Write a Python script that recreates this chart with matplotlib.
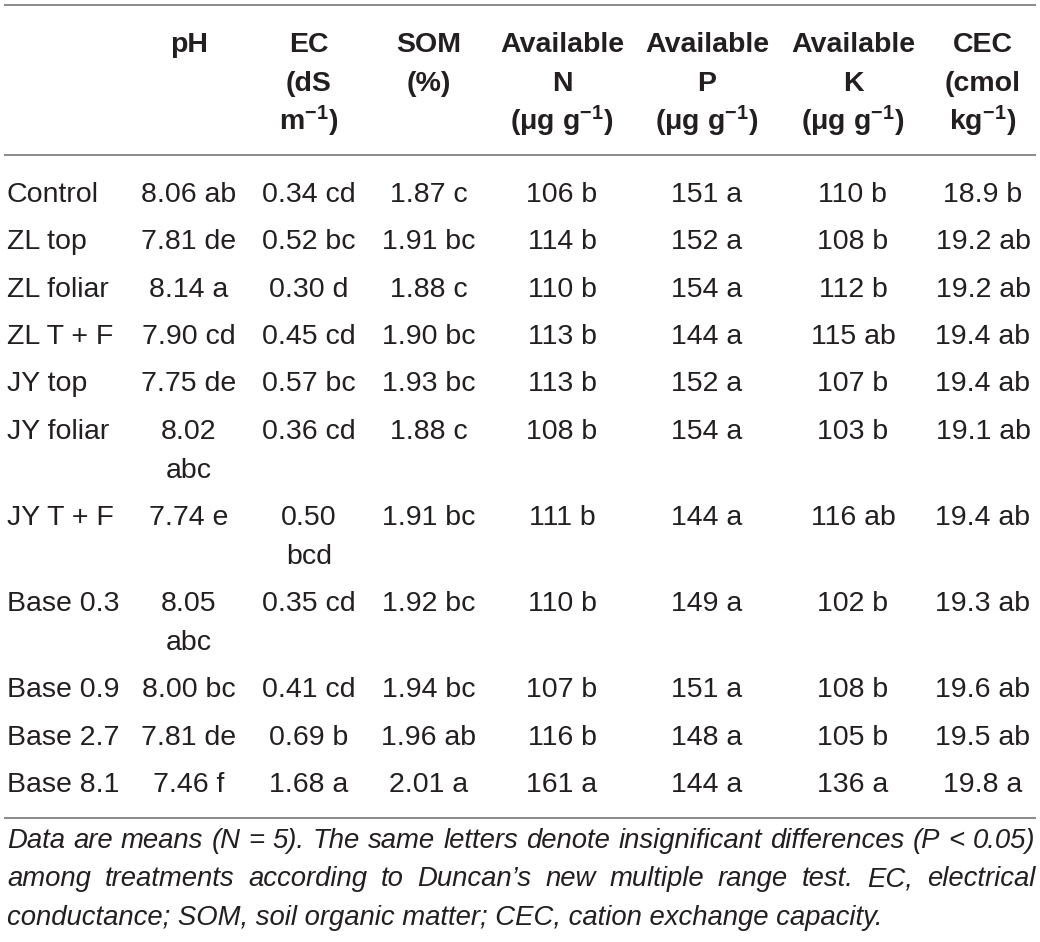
import matplotlib
matplotlib.use("Agg")
import matplotlib.pyplot as plt

W, H = 1040, 942

treatments = ["Control", "ZL top", "ZL foliar", "ZL T + F", "JY top", "JY foliar",
              "JY T + F", "Base 0.3", "Base 0.9", "Base 2.7", "Base 8.1"]
ph = ["8.06 ab", "7.81 de", "8.14 a", "7.90 cd", "7.75 de", "8.02\nabc",
      "7.74 e", "8.05\nabc", "8.00 bc", "7.81 de", "7.46 f"]
ec = ["0.34 cd", "0.52 bc", "0.30 d", "0.45 cd", "0.57 bc", "0.36 cd",
      "0.50\nbcd", "0.35 cd", "0.41 cd", "0.69 b", "1.68 a"]
som = ["1.87 c", "1.91 bc", "1.88 c", "1.90 bc", "1.93 bc", "1.88 c",
       "1.91 bc", "1.92 bc", "1.94 bc", "1.96 ab", "2.01 a"]
avail_n = ["106 b", "114 b", "110 b", "113 b", "113 b", "108 b",
           "111 b", "110 b", "107 b", "116 b", "161 a"]
avail_p = ["151 a", "152 a", "154 a", "144 a", "152 a", "154 a",
           "144 a", "149 a", "151 a", "148 a", "144 a"]
avail_k = ["110 b", "108 b", "112 b", "115 ab", "107 b", "103 b",
           "116 ab", "102 b", "108 b", "105 b", "136 a"]
cec = ["18.9 b", "19.2 ab", "19.2 ab", "19.4 ab", "19.4 ab", "19.1 ab",
       "19.4 ab", "19.3 ab", "19.6 ab", "19.5 ab", "19.8 a"]

headers = ["pH", "EC\n(dS\nm$^{-1}$)", "SOM\n(%)",
           "Available\nN\n(μg g$^{-1}$)", "Available\nP\n(μg g$^{-1}$)",
           "Available\nK\n(μg g$^{-1}$)", "CEC\n(cmol\nkg$^{-1}$)"]

footer_lines = [
    "Data are means (N = 5). The same letters denote insignificant differences (P < 0.05)",
    "among treatments according to Duncan\u2019s new multiple range test. EC, electrical",
    "conductance; SOM, soil organic matter; CEC, cation exchange capacity.",
]

plt.rcParams["font.family"] = ["Liberation Sans", "DejaVu Sans"]
plt.rcParams["mathtext.fontset"] = "custom"
plt.rcParams["mathtext.rm"] = "Liberation Sans:bold"
plt.rcParams["mathtext.it"] = "Liberation Sans:bold"
plt.rcParams["mathtext.bf"] = "Liberation Sans:bold"

col_x = [189, 309, 429, 562, 707, 853, 983]
label_x = 7
text_col = "#231f20"
rule_col = "#8a8a8a"
fs = 20.5
line_gap = 39

# row baselines: rows that wrap take an extra line
row_gap = 47.3
baselines = []
y = 202
for i in range(len(treatments)):
    baselines.append(y)
    wraps = max(v.count("\n") for v in (ph[i], ec[i], som[i], avail_n[i], avail_p[i], avail_k[i], cec[i]))
    y += row_gap + wraps * line_gap

fig = plt.figure(figsize=(W / 100, H / 100), dpi=100)
ax = fig.add_axes([0, 0, 1, 1])
ax.set_xlim(0, W)
ax.set_ylim(H, 0)
ax.axis("off")

# rules
for ry in (5, 155, 818):
    ax.plot([4, 1036], [ry, ry], color=rule_col, lw=1.4, solid_capstyle="butt")

# header
for x, h in zip(col_x, headers):
    for j, part in enumerate(h.split("\n")):
        ax.text(x, 52 + j * line_gap, part, ha="center", va="baseline",
                fontsize=fs, fontweight="bold", color=text_col)

# body
cols = [ph, ec, som, avail_n, avail_p, avail_k, cec]
for i, name in enumerate(treatments):
    b = baselines[i]
    ax.text(label_x, b, name, ha="left", va="baseline", fontsize=fs, color=text_col)
    for x, col in zip(col_x, cols):
        for j, part in enumerate(col[i].split("\n")):
            ax.text(x, b + j * line_gap, part, ha="center", va="baseline",
                    fontsize=fs, color=text_col)

# footer: size picked so the first line fills the width, then justified
left, right = 7, 1035
fig.canvas.draw()
renderer = fig.canvas.get_renderer()

probe = ax.text(0, 0, footer_lines[0], fontsize=16, style="italic")
w16 = probe.get_window_extent(renderer).width
probe.remove()
foot_fs = 16 * (right - left) / w16 * 0.995

for k, line in enumerate(footer_lines):
    yb = 848 + k * 38.5
    words = line.split(" ")
    if k < len(footer_lines) - 1:
        arts = [ax.text(0, yb, w, ha="left", va="baseline", fontsize=foot_fs,
                        style="italic", color=text_col) for w in words]
        ws = [a.get_window_extent(renderer).width for a in arts]
        space = (right - left - sum(ws)) / (len(words) - 1)
        x = left
        for a, w in zip(arts, ws):
            a.set_x(x)
            x += w + space
    else:
        ax.text(left, yb, line, ha="left", va="baseline", fontsize=foot_fs,
                style="italic", color=text_col)

fig.savefig("out.png", dpi=100)
plt.close(fig)
